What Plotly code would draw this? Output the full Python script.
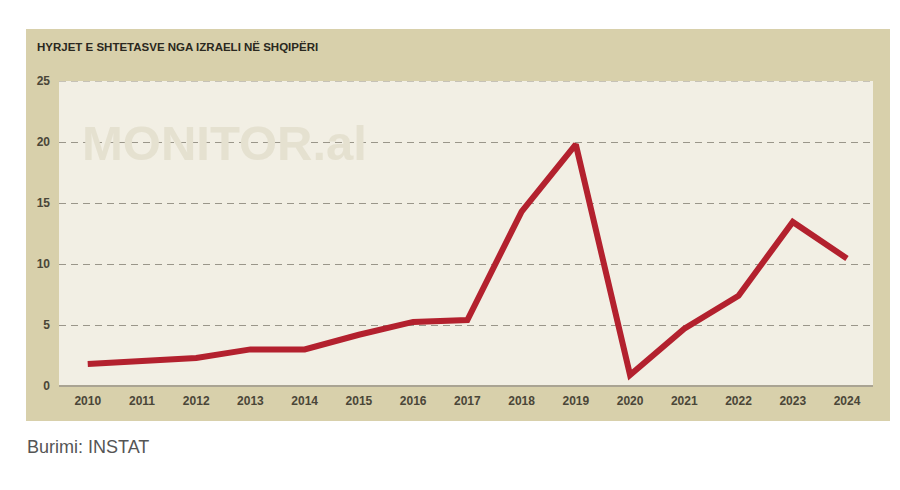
import plotly.graph_objects as go

years = [2010, 2011, 2012, 2013, 2014, 2015, 2016, 2017, 2018, 2019, 2020, 2021, 2022, 2023, 2024]
values = [1.8, 2.1, 2.3, 3.0, 3.0, 4.2, 5.25, 5.4, 14.3, 19.8, 0.9, 4.7, 7.4, 13.45, 10.45]
y_ticks = [0, 5, 10, 15, 20, 25]

title_text = "HYRJET E SHTETASVE NGA IZRAELI NË SHQIPËRI"
source_text = "Burimi: INSTAT"
watermark_text = "MONITOR.al"

W, H = 900, 490
L, R, T, B = 59, 27, 81, 104
pw = W - L - R
ph = H - T - B

def px_x(x):
    return (x - L) / pw

def px_y(y):
    return (H - B - y) / ph

cond = "Liberation Sans, Arial, sans-serif"
grid_dash = "7px,5px"

fig = go.Figure()
fig.add_trace(go.Scatter(
    x=years, y=values, mode="lines",
    line=dict(color="#b3212e", width=6),
    hoverinfo="x+y", showlegend=False,
))

# outer tan panel
fig.add_shape(type="rect", xref="paper", yref="paper",
              x0=px_x(26), x1=px_x(890), y0=px_y(421), y1=px_y(29),
              fillcolor="#d8d0ab", line=dict(width=0), layer="below")
# inner light panel
fig.add_shape(type="rect", xref="paper", yref="paper",
              x0=0, x1=1, y0=0, y1=1,
              fillcolor="#f2efe4", line=dict(width=0), layer="below")
# top gridline at 25 (edge of plot area)
fig.add_shape(type="line", xref="paper", yref="y",
              x0=0, x1=1, y0=y_ticks[-1], y1=y_ticks[-1],
              line=dict(color="#9a968a", width=1, dash=grid_dash), layer="below")

fig.add_annotation(text=watermark_text, xref="paper", yref="paper",
                   x=px_x(80), y=px_y(143), xanchor="left", yanchor="middle",
                   showarrow=False,
                   font=dict(family="Liberation Sans, Arial, sans-serif", size=49, color="#e5e1d0", weight="bold"))

fig.add_annotation(text="<b>" + title_text + "</b>", xref="paper", yref="paper",
                   x=px_x(35), y=px_y(47), xanchor="left", yanchor="middle",
                   showarrow=False,
                   font=dict(family=cond, size=11.5, color="#2a2820"))

fig.add_annotation(text=source_text, xref="paper", yref="paper",
                   x=px_x(25), y=px_y(447), xanchor="left", yanchor="middle",
                   showarrow=False,
                   font=dict(family="Liberation Sans, Arial, sans-serif", size=18, color="#555555"))

fig.update_layout(
    width=W, height=H,
    margin=dict(l=L, r=R, t=T, b=B),
    paper_bgcolor="white", plot_bgcolor="rgba(0,0,0,0)",
    xaxis=dict(range=[2009.47, 2024.48], tickvals=years, ticktext=[f"<b>{y}</b>" for y in years],
               showgrid=False, zeroline=False, showline=False, ticks="",
               tickfont=dict(family=cond, size=12, color="#4a4638"), ticklabelstandoff=6),
    yaxis=dict(range=[0, 25], tickvals=y_ticks, ticktext=[f"<b>{v}</b>" for v in y_ticks],
               showgrid=True, gridcolor="#9a968a", griddash=grid_dash, gridwidth=1,
               zeroline=True, zerolinecolor="#aaa493", zerolinewidth=2,
               showline=False, ticks="",
               tickfont=dict(family=cond, size=12, color="#4a4638"), ticklabelstandoff=8),
)

fig.write_html("out.html")
